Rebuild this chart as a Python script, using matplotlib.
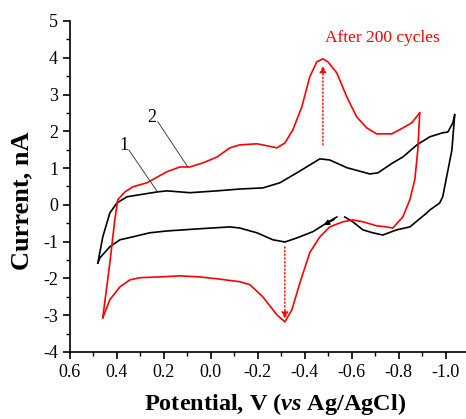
import matplotlib.pyplot as plt
import matplotlib
from matplotlib.ticker import MultipleLocator

matplotlib.rcParams['font.family'] = ['Liberation Serif', 'DejaVu Serif']
matplotlib.rcParams['mathtext.fontset'] = 'custom'
matplotlib.rcParams['mathtext.rm'] = 'Liberation Serif:bold'
matplotlib.rcParams['mathtext.it'] = 'Liberation Serif:italic:bold'
matplotlib.rcParams['mathtext.bf'] = 'Liberation Serif:bold'

# ── curve 1 (black) ──────────────────────────────
b_fwd_x = [0.481, 0.460, 0.430, 0.400, 0.357, 0.230, 0.187, 0.089, -0.026, -0.123,
           -0.221, -0.294, -0.366, -0.464, -0.506, -0.579, -0.677, -0.711, -0.774,
           -0.817, -0.877, -0.932, -0.987, -1.009, -1.030, -1.038]
b_fwd_y = [-1.58, -0.87, -0.22, 0.05, 0.22, 0.35, 0.38, 0.33, 0.38, 0.43,
           0.46, 0.60, 0.87, 1.25, 1.22, 1.01, 0.84, 0.87, 1.14,
           1.30, 1.63, 1.85, 1.96, 1.98, 2.23, 2.45]
b_rev1_x = [-1.038, -1.026, -0.987, -0.974, -0.932, -0.919, -0.847, -0.791, -0.732,
            -0.689, -0.647, -0.604, -0.570]
b_rev1_y = [2.45, 1.49, 0.22, 0.05, -0.14, -0.22, -0.60, -0.68, -0.82,
            -0.76, -0.68, -0.46, -0.33]
b_rev2_x = [-0.536, -0.494, -0.434, -0.366, -0.315, -0.264, -0.196, -0.123, -0.081,
            0.047, 0.187, 0.260, 0.332, 0.387, 0.430, 0.472, 0.481]
b_rev2_y = [-0.33, -0.49, -0.73, -0.90, -1.01, -0.95, -0.76, -0.63, -0.60,
            -0.65, -0.71, -0.76, -0.87, -0.95, -1.14, -1.44, -1.58]

# ── curve 2 (red, after 200 cycles) ──────────────
r_fwd_x = [0.460, 0.430, 0.409, 0.396, 0.366, 0.332, 0.272, 0.187, 0.132, 0.089,
           0.034, -0.026, -0.081, -0.123, -0.196, -0.221, -0.281, -0.315, -0.349,
           -0.387, -0.421, -0.451, -0.477, -0.498, -0.536, -0.579, -0.621, -0.664,
           -0.706, -0.770, -0.817, -0.855, -0.889]
r_fwd_y = [-3.07, -1.58, -0.41, 0.14, 0.35, 0.49, 0.60, 0.90, 1.03, 1.03,
           1.14, 1.30, 1.55, 1.63, 1.66, 1.63, 1.55, 1.68, 2.04,
           2.66, 3.48, 3.89, 3.97, 3.89, 3.59, 2.93, 2.39, 2.09,
           1.93, 1.93, 2.09, 2.23, 2.50]
r_rev_x = [-0.889, -0.881, -0.868, -0.847, -0.817, -0.774, -0.749, -0.706, -0.647,
           -0.604, -0.562, -0.506, -0.464, -0.421, -0.379, -0.345, -0.315, -0.281,
           -0.221, -0.166, -0.123, -0.026, 0.047, 0.132, 0.217, 0.302, 0.345,
           0.387, 0.430, 0.460]
r_rev_y = [2.50, 1.49, 0.68, 0.14, -0.33, -0.63, -0.60, -0.57, -0.46,
           -0.41, -0.46, -0.60, -0.87, -1.30, -2.12, -2.85, -3.18, -2.99,
           -2.50, -2.17, -2.09, -2.01, -1.96, -1.93, -1.96, -1.98, -2.04,
           -2.23, -2.58, -3.07]

fig = plt.figure(figsize=(4.66, 4.19), dpi=100)
ax = fig.add_axes([0.150, 0.160, 0.852, 0.790])

ax.plot(b_fwd_x, b_fwd_y, color='black', lw=1.2)
ax.plot(b_rev1_x, b_rev1_y, color='black', lw=1.2)
ax.plot(b_rev2_x, b_rev2_y, color='black', lw=1.2)
ax.plot(r_fwd_x, r_fwd_y, color='red', lw=1.2)
ax.plot(r_rev_x, r_rev_y, color='red', lw=1.2)

# scan direction arrow on curve 1
ax.annotate('', xy=(-0.48, -0.55), xytext=(-0.525, -0.40),
            arrowprops=dict(arrowstyle='-|>', color='black', lw=1.0,
                            mutation_scale=8, shrinkA=0, shrinkB=0))

# dotted red arrows (peak growth)
ax.annotate('', xy=(-0.477, 3.78), xytext=(-0.477, 1.63),
            arrowprops=dict(arrowstyle='-|>', color='red', lw=1.0, ls=':',
                            mutation_scale=10, shrinkA=0, shrinkB=0))
ax.annotate('', xy=(-0.315, -3.10), xytext=(-0.315, -1.14),
            arrowprops=dict(arrowstyle='-|>', color='red', lw=1.0, ls=':',
                            mutation_scale=10, shrinkA=0, shrinkB=0))

ax.text(-0.732, 4.54, 'After 200 cycles', color='red', fontsize=12.5,
        ha='center', va='center')

# curve labels with leader lines
ax.plot([0.226, 0.098], [2.26, 1.03], color='#444444', lw=0.7)
ax.text(0.251, 2.38, '2', fontsize=13, ha='center', va='center')
ax.plot([0.349, 0.230], [1.49, 0.38], color='#444444', lw=0.7)
ax.text(0.368, 1.60, '1', fontsize=13, ha='center', va='center')

ax.set_xlim(0.6, -1.09)
ax.set_ylim(-4, 5)
ax.xaxis.set_minor_locator(MultipleLocator(0.1))
ax.yaxis.set_minor_locator(MultipleLocator(0.5))
ax.set_xticks([0.6, 0.4, 0.2, 0.0, -0.2, -0.4, -0.6, -0.8, -1.0])
ax.set_xticklabels(['0.6', '0.4', '0.2', '0.0', '-0.2', '-0.4', '-0.6', '-0.8', '-1.0'])
ax.set_yticks(range(-4, 6))
ax.set_yticklabels([str(v) for v in range(-4, 6)])
ax.tick_params(which='major', direction='out', length=5, width=1.2, labelsize=13)
ax.tick_params(which='minor', direction='out', length=3, width=1.0)
ax.spines[['top', 'right']].set_visible(False)
ax.spines[['left', 'bottom']].set_linewidth(1.2)

ax.set_xlabel('Potential, V ($\\it{vs}$ Ag/AgCl)', fontsize=17.5, fontweight='bold')
ax.set_ylabel('Current, nA', fontsize=19, fontweight='bold')
ax.xaxis.set_label_coords(0.518, -0.118)
ax.yaxis.set_label_coords(-0.092, 0.456)

plt.savefig('out.png', dpi=100)
